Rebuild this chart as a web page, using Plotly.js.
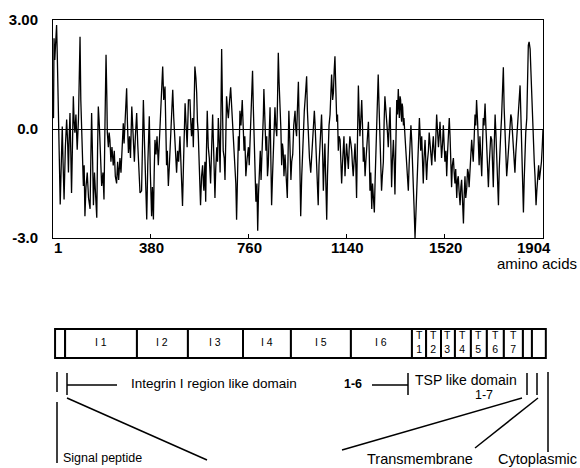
<!DOCTYPE html>
<html>
<head>
<meta charset="utf-8">
<script src="https://cdn.plot.ly/plotly-3.0.1.min.js"></script>
<style>html,body{margin:0;padding:0;background:#fff;}#chart{width:580px;height:468px;}</style>
</head>
<body>
<div id="chart"></div>
<script>
// ---- Hydropathy profile (residue position, hydropathy value) ----
const residue = [
1,3,5,8,10,13,15,18,21,23,
26,29,33,37,40,44,49,54,58,61,
64,67,70,73,77,80,83,86,90,95,
100,104,106,109,112,116,119,122,125,129,
134,139,145,148,151,155,158,162,166,171,
174,177,181,184,187,190,195,199,203,207,
210,212,216,219,222,226,230,235,239,243,
248,252,256,261,265,270,274,277,281,287,
290,294,298,302,307,310,313,317,321,326,
330,334,339,345,348,352,356,360,365,369,
372,375,379,384,387,391,394,397,401,405,
410,414,418,422,427,431,436,439,442,445,
449,453,458,462,466,470,475,478,481,485,
489,494,498,504,508,511,514,518,522,527,
533,536,539,543,546,549,552,556,559,562,
565,569,574,578,582,585,587,591,594,597,
600,604,608,613,617,621,625,630,633,637,
640,643,647,650,653,656,659,662,666,669,
672,675,679,682,687,691,695,699,703,708,
711,714,717,721,724,727,731,736,739,743,
746,750,755,760,763,766,770,773,776,779,
782,785,789,793,796,799,802,806,809,812,
815,818,820,824,828,831,834,837,841,844,
847,850,854,857,860,863,866,870,873,876,
879,883,886,889,892,895,898,902,906,911,
914,917,921,925,928,932,936,941,944,947,
950,954,957,960,963,967,971,974,977,981,
986,989,993,997,1002,1005,1009,1012,1016,1019,
1022,1026,1031,1034,1038,1041,1044,1048,1051,1054,
1057,1060,1064,1067,1070,1073,1077,1080,1083,1087,
1090,1093,1096,1099,1103,1106,1109,1112,1116,1119,
1122,1125,1128,1131,1135,1138,1141,1144,1148,1151,
1154,1158,1161,1164,1167,1171,1174,1177,1180,1183,
1187,1190,1193,1196,1200,1203,1206,1209,1213,1216,
1219,1222,1226,1229,1232,1235,1239,1242,1245,1249,
1252,1255,1259,1264,1267,1271,1274,1277,1280,1284,
1287,1290,1293,1297,1300,1303,
1310,1313,1316,1319,1323,1326,1329,1332,1336,1339,
1342,1346,1349,1351,1353,1355,1357,1359,1362,1364,
1368,1371,1375,1378,1381,1384,1388,1391,1394,1397,
1400,1403,1407,1411,1413,1416,1420,1424,1427,1429,
1433,1436,1439,1442,1446,1449,1452,1455,1459,1462,
1465,1468,1472,1475,1478,1481,1485,1488,1491,1494,
1498,1501,1504,1507,1510,1514,1517,1520,1523,1527,
1530,1533,1536,1540,1543,1546,1549,1552,1556,1559,
1562,1565,1569,1572,1575,1578,1582,1585,1588,1591,
1595,1598,1601,1604,1608,1611,1614,1617,1621,1624,
1627,1630,1633,1637,1640,1643,1646,1650,1653,1656,
1659,1662,1666,1669,1672,1675,1679,1682,1685,1688,
1692,1695,1698,1701,1705,1708,1711,1714,1718,1721,
1724,1727,1731,1734,1737,1740,1743,1746,1750,1753,
1756,1759,1763,1766,1769,1772,1776,1779,1782,1786,
1789,1792,1795,1798,1802,1805,1808,1811,1815,1818,
1821,1824,1828,1831,1834,1837,1841,1844,1847,1850,
1854,1857,1860,1863,1867,1870,1873,1877,1880,1882,
1885,1887,1890,1892,1895,1898,1901,1904
];
const hydropathy = [
0.5,0.3,2.5,1.9,2.2,2.6,2.86,1.9,0.6,-0.1,
-1.2,-2.08,-1.0,0.07,-0.9,-1.94,-0.5,0.26,-0.4,-1.2,
-0.2,0.44,-0.6,-1.76,-0.3,0.9,0.2,-0.1,0.4,-0.57,
0.3,1.5,2.54,0.8,-0.1,-0.9,-1.57,-1.0,-2.4,-1.6,
-1.2,-1.9,-2.2,-0.8,0.44,-0.9,-2.1,-1.2,-1.8,-2.44,
-0.6,0.62,0.1,-0.57,-1.0,-1.57,-1.2,-1.94,0.2,2.04,
0.9,-0.1,-0.5,-0.1,-0.3,-0.9,-0.5,-1.0,-0.6,-1.3,
-1.5,-0.9,-1.4,-0.8,-1.2,-0.5,0.16,-0.4,0.2,1.12,
0.2,-0.66,-0.2,-0.8,0.62,0.1,-0.4,-0.9,-0.2,0.44,
-0.4,-1.1,-1.76,-1.7,-0.5,0.8,-0.3,-1.4,-2.49,-1.0,
-0.3,0.35,-1.2,-2.4,-1.6,-2.49,-1.2,-0.3,-0.7,-0.2,
-1.0,-0.4,0.3,1.1,1.72,0.8,1.17,0.1,-1.0,-0.6,
-1.57,-1.0,-0.3,0.4,1.08,0.3,-0.3,-0.8,-1.2,-0.6,
-0.9,-0.2,-1.1,-2.12,-0.9,-0.2,0.71,0.1,-0.5,0.8,
0.8,0.2,-0.2,0.3,-0.5,0.6,1.72,1.4,1.0,0.2,
-0.1,-1.0,-2.1,-1.3,-1.0,-1.5,-1.7,-0.9,-2.0,-0.6,
0.5,-0.5,-0.8,-1.5,-0.4,0.4,-0.6,-1.9,-1.1,-0.5,
-0.9,0.3,-0.4,-1.2,0.3,2.2,0.7,-0.6,-0.8,-1.4,
-0.3,0.9,0.5,0.3,0.8,1.15,0.6,0.1,-0.5,-0.8,
-1.5,-2.5,-1.2,-0.2,-0.6,0.5,0.1,0.8,0.2,-0.6,
-0.2,-1.3,-0.8,-0.5,-1.0,-0.3,0.4,0.9,1.6,0.6,
-0.2,-1.0,-2.0,-1.5,-2.8,-1.8,-1.0,-0.6,-1.4,-0.9,
-0.3,0.4,1.1,0.4,-0.6,-0.2,-1.3,-1.0,0.1,0.6,
-0.8,-2.1,-1.2,-0.5,0.0,0.6,0.1,-0.2,0.8,2.1,
1.3,0.7,0.0,-1.0,-0.4,-0.6,-1.3,-0.7,-1.2,-1.9,
-0.7,0.5,-0.4,-1.4,-0.9,-0.7,0.1,0.5,0.0,-0.2,
0.5,1.3,0.2,-1.0,-2.4,-1.3,-0.3,0.2,0.5,0.9,
1.45,0.5,-0.4,-0.8,-1.2,-0.8,-0.6,0.0,0.5,0.1,
-0.4,-1.1,-2.1,-1.0,-0.4,0.2,0.4,-0.6,-1.7,-1.0,
-0.4,-1.3,-2.5,-1.3,-0.2,0.1,0.4,0.9,1.5,0.8,
1.0,1.6,2.0,1.2,0.2,0.4,-0.6,-0.2,-0.3,-0.9,
-1.5,-1.0,-0.7,-0.2,-1.3,-0.8,-0.4,-0.7,-1.1,-0.6,
-0.2,-0.4,-0.6,-1.0,-1.3,-0.8,-0.4,-1.0,-1.9,-0.5,
1.2,0.4,-0.2,0.2,0.8,0.1,-0.9,-0.5,-1.3,-0.9,
-0.6,-0.1,0.2,-0.6,-1.7,-1.2,-2.2,-1.5,-1.8,-2.3,
-1.4,-0.6,0.3,1.5,0.7,-0.4,-0.9,-1.7,-1.3,-0.9,
0.2,0.9,0.6,0.3,-0.1,-0.5,
0.6,-0.4,-1.6,-0.9,-0.3,-0.9,-1.8,-0.6,0.8,0.4,
1.1,0.3,0.9,0.8,0.4,0.2,0.7,0.6,0.1,0.3,
-0.2,-0.5,-1.0,-1.3,-1.7,-1.0,-0.5,0.1,-0.3,-0.8,
-1.5,-2.1,-3.0,-2.3,-1.6,-1.0,-0.4,0.3,-0.2,-0.6,
-0.2,-0.8,-1.5,-0.8,-0.3,-0.9,-1.4,-0.9,-0.6,-0.1,
-0.4,-0.7,-1.0,-0.5,-0.2,-0.6,-0.9,-0.2,0.4,0.0,
-0.5,-0.2,0.2,-0.3,-0.8,-0.4,0.1,-0.4,-0.9,-0.6,
-1.3,-0.7,0.0,0.3,-0.2,-0.8,-1.6,-1.0,-0.8,-1.2,
-1.5,-1.1,-1.9,-1.4,-1.3,-1.7,-2.1,-1.6,-1.4,-1.9,
-2.6,-1.8,-1.3,-1.9,-1.6,-1.1,-1.2,-1.6,-1.0,-0.6,
-0.3,-0.6,-0.9,-0.2,0.4,0.1,0.8,0.2,-0.6,-1.0,
-0.2,-0.7,-1.3,-0.5,0.3,0.1,0.7,0.1,-0.5,-1.0,
-1.6,-1.0,-0.7,-0.2,-0.3,-0.9,-1.6,-0.6,0.4,-0.1,
-0.7,-1.2,-2.1,-1.1,-0.4,-0.1,0.3,0.9,1.7,0.6,
-0.2,-0.8,-1.3,-1.0,-0.6,-0.2,0.0,0.4,0.3,-0.1,
-0.5,-0.9,-1.2,-0.7,-0.3,0.1,0.3,0.6,1.2,0.4,
-0.3,-1.2,-2.3,-1.4,-0.5,-0.1,0.3,1.4,2.3,2.4,
2.2,1.6,0.9,0.2,-0.5,-0.9,-1.3,-2.1,-1.7,-1.4,
-1.1,-1.0,-1.4,-1.3,-1.2,-0.9,-0.5,0.0
];

// ---- axis ticks ----
const xTickVals = [1, 380, 760, 1140, 1520, 1904];
const xTickText = ['1', '380', '760', '1140', '1520', '1904'];
const yTickVals = [-3, 0, 3];
const yTickText = ['-3.0', '0.0', '3.00'];

// ---- domain map (residue boundaries of the schematic boxes) ----
const domainStart  = [9, 48, 327, 525, 739, 925, 1158, 1395, 1450, 1508, 1562, 1624, 1686, 1752, 1826, 1861];
const domainEnd    = [48, 327, 525, 739, 925, 1158, 1395, 1450, 1508, 1562, 1624, 1686, 1752, 1826, 1861, 1915];
const domainLetter = ['', 'I', 'I', 'I', 'I', 'I', 'I', 'T', 'T', 'T', 'T', 'T', 'T', 'T', '', ''];
const domainNumber = ['', '1', '2', '3', '4', '5', '6', '1', '2', '3', '4', '5', '6', '7', '', ''];

// ---- page geometry helpers (pixel -> paper) ----
const W = 580, H = 468, ML = 53, MR = 30, MT = 20, MB = 0;
const PW = W - ML - MR, PH = H - MT - MB;
const px = x => (x - ML) / PW;
const py = y => (H - MB - y) / PH;
const FONT = 'Liberation Sans, Arial, Helvetica, sans-serif';

const profileTrace = {
  x: residue, y: hydropathy, type: 'scatter', mode: 'lines',
  line: {color: '#000', width: 1.3}, hoverinfo: 'skip', xaxis: 'x', yaxis: 'y'
};

const boxTrace = {
  type: 'bar', orientation: 'h',
  base: domainStart,
  x: domainStart.map((s, i) => domainEnd[i] - s),
  y: domainStart.map(() => 0),
  width: 1,
  marker: {color: '#fff', line: {color: '#000', width: 2}},
  xaxis: 'x2', yaxis: 'y2', hoverinfo: 'skip', textposition: 'none'
};

const annotations = [];
// x tick labels (the last one sits left of the frame corner, as in the figure)
xTickVals.forEach((v, i) => {
  const last = i === xTickVals.length - 1;
  annotations.push({
    xref: 'x', yref: 'paper', x: v, y: py(247), yanchor: 'middle',
    xanchor: i === 0 ? 'left' : (last ? 'right' : 'center'),
    xshift: i === 0 ? -1 : (last ? 10 : 1),
    text: xTickText[i], showarrow: false,
    font: {family: FONT, size: 15, color: '#000', weight: 'bold'}
  });
});
domainStart.forEach((s, i) => {
  const mid = (s + domainEnd[i]) / 2;
  if (domainLetter[i] === 'I') {
    annotations.push({xref: 'x2', yref: 'y2', x: mid, y: 0.05, text: 'I ' + domainNumber[i], showarrow: false,
      font: {family: FONT, size: 10.5, color: '#000'}});
  } else if (domainLetter[i] === 'T') {
    annotations.push({xref: 'x2', yref: 'y2', x: mid, y: 0.05, text: 'T<br>' + domainNumber[i], showarrow: false,
      font: {family: FONT, size: 10.5, color: '#000'}});
  }
});

const txt = (text, x, y, anchor, size, bold) => ({
  xref: 'paper', yref: 'paper', x: px(x), y: py(y), xanchor: anchor, yanchor: 'middle',
  text: text, showarrow: false,
  font: {family: FONT, size: size, color: '#000', weight: bold ? 'bold' : 'normal'}
});
annotations.push(txt('amino acids', 579, 263, 'right', 15, false));
annotations.push(txt('Integrin I region like domain', 129, 383, 'left', 13.5, false));
annotations.push(txt('Signal peptide', 61, 458, 'left', 12.5, false));
annotations.push(txt('1-6', 353, 384, 'center', 12.5, true));
annotations.push(txt('TSP like domain', 466, 380, 'center', 14, false));
annotations.push(txt('1-7', 484, 395, 'center', 12.5, false));
annotations.push(txt('Transmembrane', 365, 458.5, 'left', 14.5, false));
annotations.push(txt('Cytoplasmic', 579, 458.5, 'right', 14.5, false));

const seg = (x0, y0, x1, y1, w) => ({
  type: 'line', xref: 'paper', yref: 'paper', x0: px(x0), y0: py(y0), x1: px(x1), y1: py(y1),
  line: {color: '#000', width: w || 1.5}
});
const shapes = [
  seg(57, 372, 57, 392), seg(57, 402, 57, 463),
  seg(67, 373, 67, 395), seg(67, 385, 117, 385), seg(67, 398, 207, 460),
  seg(372, 385, 408, 385), seg(408, 373, 408, 395),
  seg(527, 373, 527, 395), seg(537, 373, 537, 395), seg(548, 372, 548, 452),
  seg(522, 398, 342, 450), seg(538, 398, 475, 448)
];

const layout = {
  width: W, height: H,
  margin: {l: ML, r: MR, t: MT, b: MB, pad: 0},
  paper_bgcolor: '#fff', plot_bgcolor: 'rgba(0,0,0,0)',
  showlegend: false,
  font: {family: FONT, color: '#000'},
  xaxis: {
    domain: [0, 490 / PW], range: [1, 1904], anchor: 'y',
    tickvals: xTickVals, showticklabels: false,
    ticks: 'inside', ticklen: 4, tickcolor: '#000', tickwidth: 1,
    showline: true, mirror: true, linecolor: '#000', linewidth: 1,
    showgrid: false, zeroline: false
  },
  yaxis: {
    domain: [py(238), py(20)], range: [-3, 3], anchor: 'x',
    tickvals: yTickVals, ticktext: yTickText,
    ticks: '', ticklabelstandoff: 11,
    showline: true, mirror: true, linecolor: '#000', linewidth: 1,
    showgrid: false, zeroline: true, zerolinecolor: '#000', zerolinewidth: 1,
    tickfont: {family: FONT, size: 15, color: '#000', weight: 'bold'}
  },
  xaxis2: {domain: [0, 1], range: [1, 1 + PW * 1903 / 490], anchor: 'y2', visible: false, fixedrange: true},
  yaxis2: {domain: [py(372.5), py(314.5)], range: [-1, 1], anchor: 'x2', visible: false, fixedrange: true},
  shapes: shapes,
  annotations: annotations
};

Plotly.newPlot('chart', [profileTrace, boxTrace], layout, {displayModeBar: false, staticPlot: true});
</script>
</body>
</html>
